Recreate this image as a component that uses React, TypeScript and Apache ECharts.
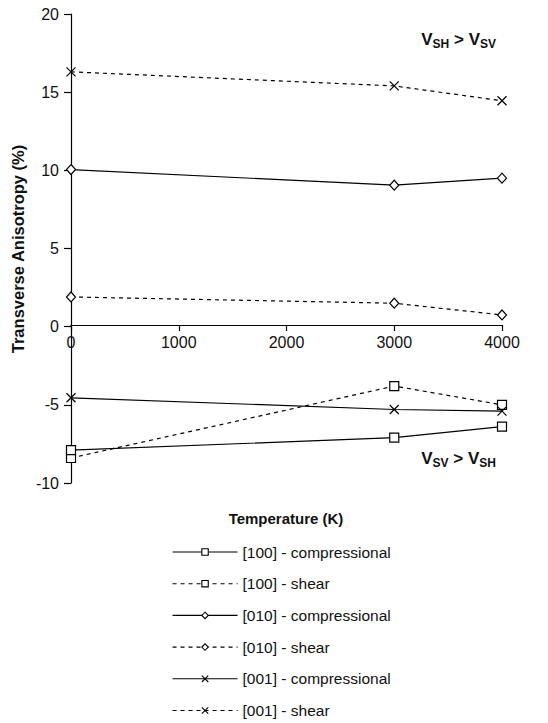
import React, { useEffect, useRef } from "react";
import * as echarts from "echarts";

const temps = [0, 3000, 4000];
const seriesNames = [
  "[100] - compressional",
  "[100] - shear",
  "[010] - compressional",
  "[010] - shear",
  "[001] - compressional",
  "[001] - shear",
];
const c100 = [-7.9, -7.1, -6.4];
const s100 = [-8.4, -3.8, -5.0];
const c010 = [10.05, 9.05, 9.5];
const s010 = [1.9, 1.5, 0.75];
const c001 = [-4.55, -5.3, -5.4];
const s001 = [16.3, 15.4, 14.45];
const xTicks = [0, 1000, 2000, 3000, 4000];
const yTicks = [-10, -5, 0, 5, 10, 15, 20];

const FONT = "'Liberation Sans', Arial, sans-serif";
const CROSS = "path://M0,0L10,10M10,0L0,10";

export default function App() {
  const ref = useRef<HTMLDivElement>(null);
  useEffect(() => {
    document.body.style.margin = "0";
    if (!ref.current) return;
    const chart = echarts.init(ref.current, null, { renderer: "svg" });
    const vals = [c100, s100, c010, s010, c001, s001];
    const symbols = ["rect", "rect", "diamond", "diamond", CROSS, CROSS];
    const sizes = [9, 9, [9, 10], [9, 10], 9, 9];
    const series = vals.map((v, i) => ({
      name: seriesNames[i],
      type: "line",
      xAxisIndex: 0,
      yAxisIndex: 0,
      data: temps.map((t, j) => [t, v[j]]),
      symbol: symbols[i],
      symbolSize: sizes[i],
      showSymbol: true,
      lineStyle: {
        color: "#000",
        width: 1.2,
        type: i % 2 === 1 ? [4, 4] : "solid",
      },
      itemStyle: { color: "#fff", borderColor: "#000", borderWidth: 1.2 },
      emphasis: { disabled: true },
      z: i % 2 === 1 ? 2 : 3,
    }));
    const xMin = xTicks[0];
    const xMax = xTicks[xTicks.length - 1];
    chart.setOption({
      animation: false,
      textStyle: { fontFamily: FONT },
      grid: [
        { left: 71, right: 46, top: 14, bottom: 240, containLabel: false },
        { left: 71, right: 46, top: 14, bottom: 398, containLabel: false },
      ],
      xAxis: [
        {
          type: "value",
          gridIndex: 0,
          min: xMin,
          max: xMax,
          interval: 1000,
          show: false,
          splitLine: { show: false },
        },
        {
          type: "value",
          gridIndex: 1,
          min: xMin,
          max: xMax,
          interval: 1000,
          axisLine: { show: true, onZero: false, lineStyle: { color: "#000", width: 1.2 } },
          axisTick: { show: true, length: 6, lineStyle: { color: "#000", width: 1.2 } },
          axisLabel: {
            color: "#111",
            fontSize: 16,
            margin: 9,
            fontFamily: FONT,
            formatter: (v: number) => String(v),
          },
          splitLine: { show: false },
        },
      ],
      yAxis: [
        {
          type: "value",
          gridIndex: 0,
          min: yTicks[0],
          max: yTicks[yTicks.length - 1],
          interval: 5,
          axisLine: { show: true, onZero: false, lineStyle: { color: "#000", width: 1.2 } },
          axisTick: { show: true, length: 7, lineStyle: { color: "#000", width: 1.2 } },
          axisLabel: { color: "#111", fontSize: 16, margin: 12, fontFamily: FONT },
          splitLine: { show: false },
        },
        {
          type: "value",
          gridIndex: 1,
          min: 0,
          max: yTicks[yTicks.length - 1],
          show: false,
          splitLine: { show: false },
        },
      ],
      legend: {
        orient: "vertical",
        left: 172,
        top: 543,
        padding: 0,
        itemWidth: 65,
        itemHeight: 8,
        itemGap: 13.7,
        data: seriesNames,
        lineStyle: { width: 1.1 },
        itemStyle: { borderWidth: 1.1 },
        textStyle: { color: "#111", fontSize: 15.5, fontFamily: FONT, lineHeight: 18 },
        selectedMode: false,
      },
      graphic: [
        {
          type: "text",
          x: 18,
          y: 249,
          rotation: Math.PI / 2,
          style: {
            text: "Transverse Anisotropy (%)",
            font: `bold 16.5px ${FONT}`,
            fill: "#111",
            align: "center",
            verticalAlign: "middle",
          },
        },
        {
          type: "text",
          x: 286,
          y: 518,
          style: {
            text: "Temperature (K)",
            font: `bold 15px ${FONT}`,
            fill: "#111",
            align: "center",
            verticalAlign: "middle",
          },
        },
        {
          type: "text",
          x: 496,
          y: 28,
          style: {
            text: "{v|V}{s|SH}{v| > V}{s|SV}",
            align: "right",
            verticalAlign: "top",
            rich: {
              v: { fontSize: 17, fontWeight: "bold", lineHeight: 22, fontFamily: FONT, fill: "#111" },
              s: { fontSize: 12, fontWeight: "bold", lineHeight: 12, verticalAlign: "bottom", fontFamily: FONT, fill: "#111" },
            },
          },
        },
        {
          type: "text",
          x: 496,
          y: 447,
          style: {
            text: "{v|V}{s|SV}{v| > V}{s|SH}",
            align: "right",
            verticalAlign: "top",
            rich: {
              v: { fontSize: 17, fontWeight: "bold", lineHeight: 22, fontFamily: FONT, fill: "#111" },
              s: { fontSize: 12, fontWeight: "bold", lineHeight: 12, verticalAlign: "bottom", fontFamily: FONT, fill: "#111" },
            },
          },
        },
      ],
      series,
    });
    return () => chart.dispose();
  }, []);
  return <div ref={ref} style={{ width: 548, height: 723 }} />;
}
